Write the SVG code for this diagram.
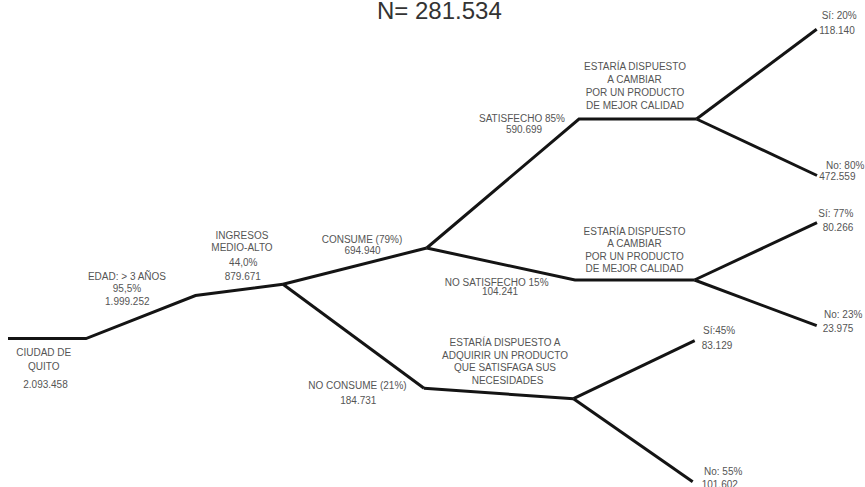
<svg xmlns="http://www.w3.org/2000/svg" width="865" height="487" viewBox="0 0 865 487">
<style>
  .lbl { font-family: "Liberation Sans", Arial, sans-serif; font-size: 10px; fill: #555; }
  .c { text-anchor: middle; }
  .title { font-family: "Liberation Sans", Arial, sans-serif; font-size: 24px; fill: #333; }
  .edge { fill: none; stroke: #141414; stroke-width: 3; stroke-linejoin: miter; stroke-linecap: butt; }
</style>
<rect width="865" height="487" fill="#ffffff"/>
<text class="title" x="377" y="18.5">N= 281.534</text>
<g id="connectors">
  <path class="edge" d="M8,338.6 L86,338.6 L195.5,295.5 L283,284.3"/>
  <path class="edge" d="M283,284.3 L426.7,248"/>
  <path class="edge" d="M283,284.3 L424,388.3"/>
  <path class="edge" d="M426.7,248 L579,119 L696.5,119"/>
  <path class="edge" d="M696.5,119 L816.7,29.3"/>
  <path class="edge" d="M696.5,119 L817,175.5"/>
  <path class="edge" d="M426.7,248 L575,280 L694.5,280"/>
  <path class="edge" d="M694.5,280 L817,222.7"/>
  <path class="edge" d="M694.5,280 L816.7,325.7"/>
  <path class="edge" d="M424,388.3 L573.5,398.7"/>
  <path class="edge" d="M573.5,398.7 L694.7,340.7"/>
  <path class="edge" d="M573.5,398.7 L692.7,481.7"/>
</g>
<g id="node-quito">
  <text class="lbl c" x="43.7" y="356.3">CIUDAD DE</text>
  <text class="lbl c" x="43.8" y="369.6">QUITO</text>
  <text class="lbl c" x="45.5" y="387.6">2.093.458</text>
</g>
<g id="node-edad">
  <text class="lbl c" x="127" y="279.6">EDAD: &gt; 3 AÑOS</text>
  <text class="lbl c" x="127" y="292.3">95,5%</text>
  <text class="lbl c" x="127.3" y="305.3">1.999.252</text>
</g>
<g id="node-ingresos">
  <text class="lbl c" x="242" y="238.5">INGRESOS</text>
  <text class="lbl c" x="242" y="251">MEDIO-ALTO</text>
  <text class="lbl c" x="243.3" y="266.3">44,0%</text>
  <text class="lbl c" x="242.8" y="280.3">879.671</text>
</g>
<g id="node-consume">
  <text class="lbl c" x="362" y="243">CONSUME (79%)</text>
  <text class="lbl c" x="362.5" y="253.6">694.940</text>
</g>
<g id="node-satisfecho">
  <text class="lbl c" x="522" y="121.5">SATISFECHO 85%</text>
  <text class="lbl c" x="524" y="133">590.699</text>
</g>
<g id="node-cambiar-1">
  <text class="lbl c" x="635" y="69.6">ESTARÍA DISPUESTO</text>
  <text class="lbl c" x="634.5" y="82.6">A CAMBIAR</text>
  <text class="lbl c" x="635" y="95.6">POR UN PRODUCTO</text>
  <text class="lbl c" x="635" y="108.6">DE MEJOR CALIDAD</text>
</g>
<g id="node-si-20">
  <text class="lbl" x="821.7" y="18.6">Sí: 20%</text>
  <text class="lbl" x="819.3" y="33.6">118.140</text>
</g>
<g id="node-no-80">
  <text class="lbl" x="826" y="168.6">No: 80%</text>
  <text class="lbl" x="819.3" y="180.3">472.559</text>
</g>
<g id="node-no-satisfecho">
  <text class="lbl c" x="496.7" y="286">NO SATISFECHO 15%</text>
  <text class="lbl c" x="500" y="295">104.241</text>
</g>
<g id="node-cambiar-2">
  <text class="lbl c" x="634.5" y="234.5">ESTARÍA DISPUESTO</text>
  <text class="lbl c" x="634.5" y="247">A CAMBIAR</text>
  <text class="lbl c" x="634.5" y="259.5">POR UN PRODUCTO</text>
  <text class="lbl c" x="634.5" y="272">DE MEJOR CALIDAD</text>
</g>
<g id="node-si-77">
  <text class="lbl" x="818.3" y="217">Sí: 77%</text>
  <text class="lbl" x="822.7" y="231">80.266</text>
</g>
<g id="node-no-23">
  <text class="lbl" x="824" y="318">No: 23%</text>
  <text class="lbl" x="822.7" y="331.5">23.975</text>
</g>
<g id="node-no-consume">
  <text class="lbl c" x="357.5" y="388.6">NO CONSUME (21%)</text>
  <text class="lbl c" x="358.3" y="404.3">184.731</text>
</g>
<g id="node-adquirir">
  <text class="lbl c" x="505" y="346.3">ESTARÍA DISPUESTO A</text>
  <text class="lbl c" x="505" y="358.6">ADQUIRIR UN PRODUCTO</text>
  <text class="lbl c" x="505" y="371.3">QUE SATISFAGA SUS</text>
  <text class="lbl c" x="507.5" y="383.6">NECESIDADES</text>
</g>
<g id="node-si-45">
  <text class="lbl" x="703" y="334.3">Sí:45%</text>
  <text class="lbl" x="701.7" y="349.3">83.129</text>
</g>
<g id="node-no-55">
  <text class="lbl" x="704" y="475.3">No: 55%</text>
  <text class="lbl" x="701.7" y="488">101.602</text>
</g>
</svg>
